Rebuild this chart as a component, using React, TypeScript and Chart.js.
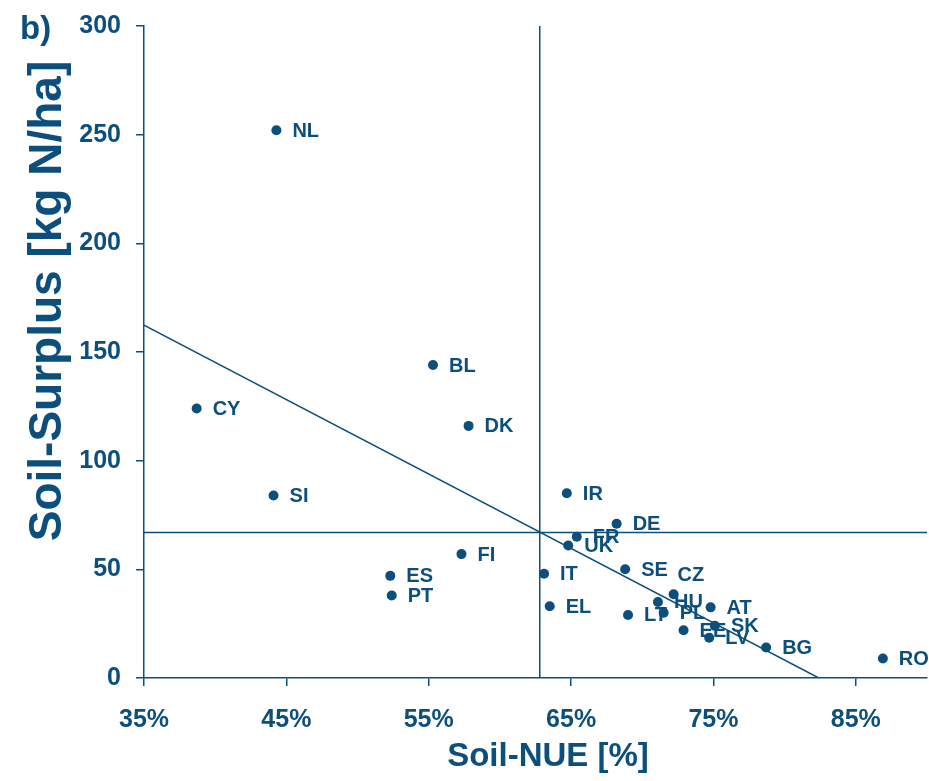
import { useEffect, useRef } from "react";
import { Chart, registerables } from "chart.js";

Chart.register(...registerables);

const countries = ["NL", "BL", "CY", "DK", "SI", "IR", "DE", "FR", "UK", "FI", "IT", "SE", "ES", "PT", "CZ", "HU", "AT", "EL", "LT", "PL", "EE", "SK", "LV", "BG", "RO"];
const nueValues = [44.3, 55.3, 38.7, 57.8, 44.1, 64.7, 68.2, 65.4, 64.8, 57.3, 63.1, 68.8, 52.3, 52.4, 72.2, 71.1, 74.8, 63.5, 69.0, 71.5, 72.9, 75.1, 74.7, 78.7, 86.9];
const surplusValues = [252, 144, 124, 116, 84, 85, 71, 65, 61, 57, 48, 50, 47, 38, 38.5, 35, 32.5, 33, 29, 30, 22, 24, 18.5, 14, 9];
const xTickValues = [35, 45, 55, 65, 75, 85];
const yTickValues = [0, 50, 100, 150, 200, 250, 300];
const meanNue = 62.8;
const meanSurplus = 66.9;
const trendX = [35, 82.4];
const trendY = [162.3, 0];
const xTitle = "Soil-NUE [%]";
const yTitle = "Soil-Surplus [kg N/ha]";

const COLOR = "#0c4e7c";
const FONT = "'Liberation Sans', Arial, sans-serif";

// label placement relative to the point (pixels); default is to the right
const DEFAULT_LABEL_OFFSET: [number, number] = [16, 1];
const LABEL_OFFSETS: Record<string, [number, number]> = { CZ: [4, -19] };

const labelPlugin = {
  id: "pointLabels",
  afterDatasetsDraw(chart: any) {
    const meta = chart.getDatasetMeta(0);
    const ctx = chart.ctx;
    ctx.save();
    ctx.font = `bold 20px ${FONT}`;
    ctx.fillStyle = COLOR;
    ctx.textAlign = "left";
    ctx.textBaseline = "middle";
    meta.data.forEach((el: any, i: number) => {
      const [dx, dy] = LABEL_OFFSETS[countries[i]] || DEFAULT_LABEL_OFFSET;
      ctx.fillText(countries[i], el.x + dx, el.y + dy);
    });
    ctx.restore();
  },
};

const titlePlugin = {
  id: "axisTitles",
  afterDraw(chart: any) {
    const ctx = chart.ctx;
    ctx.save();
    ctx.fillStyle = COLOR;
    ctx.textAlign = "center";
    ctx.textBaseline = "middle";
    ctx.font = `bold 33px ${FONT}`;
    ctx.fillText(xTitle, 548, 757);
    ctx.translate(48, 301);
    ctx.rotate(-Math.PI / 2);
    ctx.font = `bold 46px ${FONT}`;
    ctx.fillText(yTitle, 0, 0);
    ctx.restore();
  },
};

export default function App() {
  const ref = useRef<HTMLCanvasElement | null>(null);

  useEffect(() => {
    if (!ref.current) return;
    const points = nueValues.map((x, i) => ({ x, y: surplusValues[i] }));
    const chart = new Chart(ref.current, {
      type: "scatter",
      data: {
        datasets: [
          {
            data: points,
            backgroundColor: COLOR,
            borderWidth: 0,
            pointRadius: 5,
          },
          {
            data: trendX.map((x, i) => ({ x, y: trendY[i] })),
            showLine: true,
            borderColor: COLOR,
            borderWidth: 1.5,
            pointRadius: 0,
          },
          {
            data: [
              { x: meanNue, y: 0 },
              { x: meanNue, y: 300 },
            ],
            showLine: true,
            borderColor: COLOR,
            borderWidth: 1.5,
            pointRadius: 0,
          },
          {
            data: [
              { x: 35, y: meanSurplus },
              { x: 90, y: meanSurplus },
            ],
            showLine: true,
            borderColor: COLOR,
            borderWidth: 1.5,
            pointRadius: 0,
          },
        ],
      },
      options: {
        responsive: false,
        animation: false,
        layout: { autoPadding: false, padding: { top: 26, right: 2, left: 0, bottom: 0 } },
        plugins: { legend: { display: false }, tooltip: { enabled: false } },
        scales: {
          x: {
            type: "linear",
            min: 35,
            max: 90,
            afterBuildTicks: (s: any) => {
              s.ticks = xTickValues.map((v) => ({ value: v }));
            },
            afterFit: (s: any) => {
              s.height = 103;
              s.paddingLeft = 0;
              s.paddingRight = 0;
            },
            ticks: {
              callback: (v: any) => v + "%",
              color: COLOR,
              font: { family: FONT, size: 25, weight: "bold" },
              padding: 19,
              maxRotation: 0,
              autoSkip: false,
            },
            grid: { drawOnChartArea: false, drawTicks: true, tickLength: 8, color: COLOR, lineWidth: 1.5 },
            border: { display: true, color: COLOR, width: 1.5 },
          },
          y: {
            type: "linear",
            min: 0,
            max: 300,
            afterBuildTicks: (s: any) => {
              s.ticks = yTickValues.map((v) => ({ value: v }));
            },
            afterFit: (s: any) => {
              s.width = 144;
              s.paddingTop = 0;
              s.paddingBottom = 0;
            },
            ticks: {
              color: COLOR,
              font: { family: FONT, size: 25, weight: "bold" },
              padding: 15,
              autoSkip: false,
            },
            grid: { drawOnChartArea: false, drawTicks: true, tickLength: 8, color: COLOR, lineWidth: 1.5 },
            border: { display: true, color: COLOR, width: 1.5 },
          },
        },
      },
      plugins: [labelPlugin, titlePlugin],
    } as any);
    return () => chart.destroy();
  }, []);

  return (
    <div style={{ position: "absolute", left: 0, top: 0, width: 929, height: 781, background: "#fff" }}>
      <canvas ref={ref} width={929} height={781} style={{ display: "block" }} />
      <div
        style={{
          position: "absolute",
          left: 20,
          top: 12,
          font: `bold 33px ${FONT}`,
          lineHeight: "32px",
          color: COLOR,
        }}
      >
        b)
      </div>
    </div>
  );
}
